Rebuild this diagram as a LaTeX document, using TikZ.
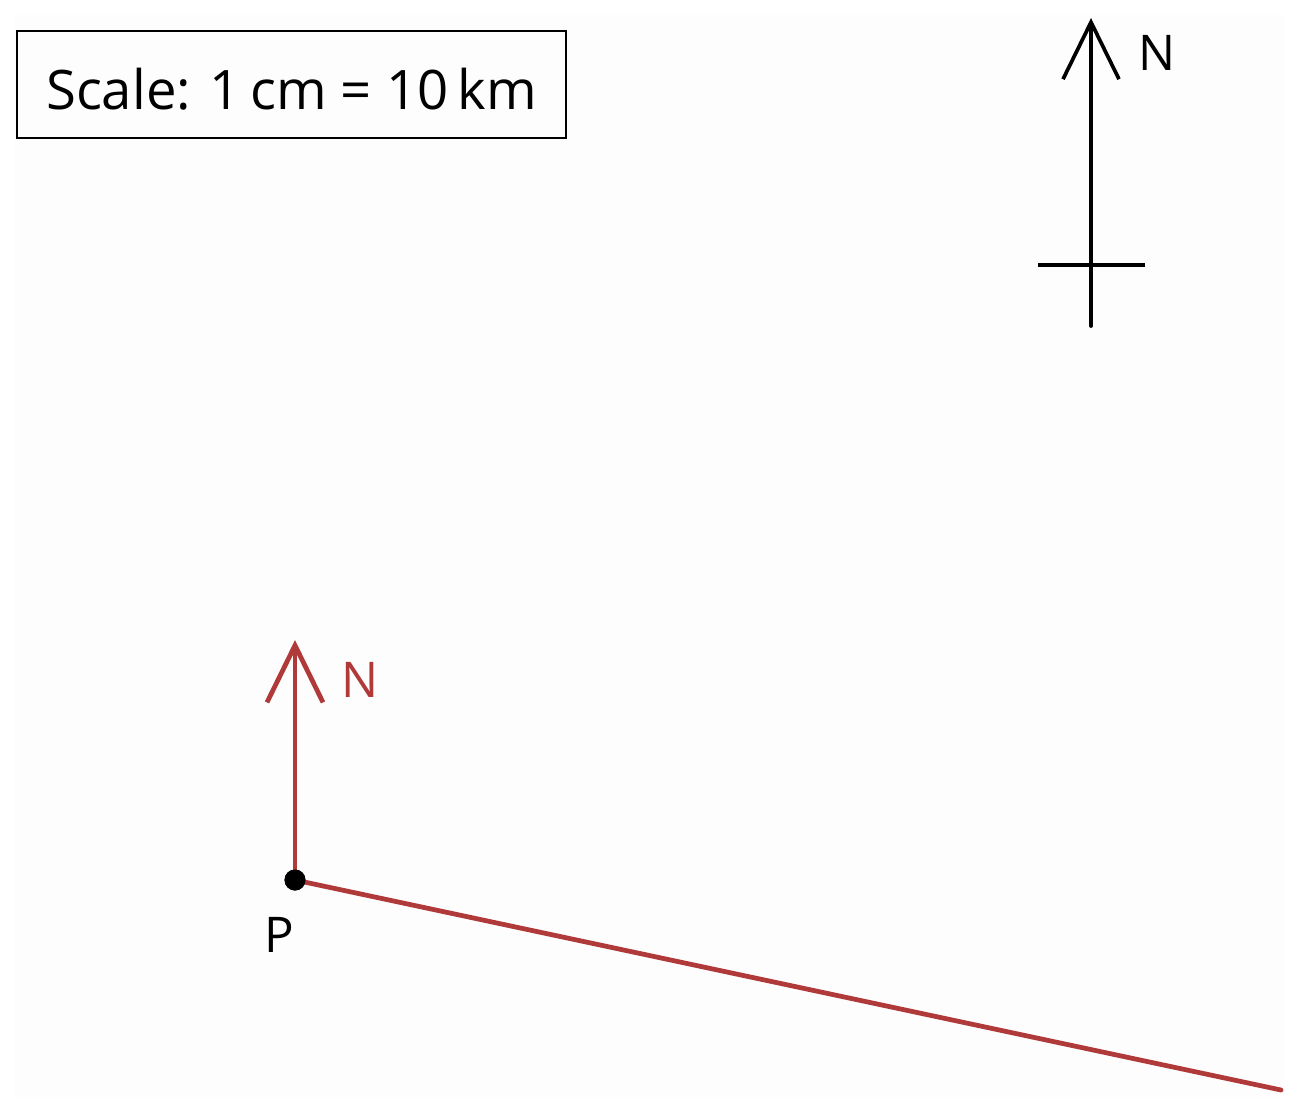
\documentclass[tikz,border=0pt]{standalone}
\usepackage{fontspec}
\setmainfont{Open Sans}
\usetikzlibrary{arrows.meta}
\definecolor{bearingred}{HTML}{B0393A}
\definecolor{paper}{HTML}{FDFDFD}

\begin{document}
\begin{tikzpicture}[x=0.02cm, y=-0.02cm,
    northline/.style={line width=2.1pt, line cap=round, -{Straight Barb[length=1.14cm, width=1.12cm, line width=2.1pt]}},
    redline/.style={line width=2.7pt, line cap=round, bearingred},
    lbl/.style={inner sep=0pt, font=\fontsize{28}{30}\selectfont}]
\useasboundingbox (0,0) rectangle (1300,1110);
\fill[paper] (15,15) rectangle (1285,1097);

%scale box
\node[draw, line width=1.1pt, minimum width=10.98cm, minimum height=2.14cm, text height=28pt, text depth=0pt, font=\fontsize{31}{33}\selectfont] (scalebox) at (291.5,84.5) {Scale: 1\,cm = 10\,km};

%north arrow (top right)
\coordinate (ntop) at (1091,18); \coordinate (nbot) at (1091,326);
\coordinate (crossl) at (1038,265); \coordinate (crossr) at (1145,265);
\draw[northline] (nbot) -- (ntop);
\draw[line width=2.1pt] (crossl) -- (crossr);
\node[lbl] (nlabel) at (1157,53) {N};

%point P and its north line
\node[circle, fill=black, inner sep=0pt, minimum size=0.42cm] (P) at (295,880) {};
\node[lbl] (plabel) at (279,935) {P};
\coordinate (ptop) at (295,640); \coordinate (bearend) at (1281,1090);
\draw[northline, redline, -{Straight Barb[length=1.14cm, width=1.12cm, line width=2.7pt]}] (P.center) -- (ptop);
\node[lbl, text=bearingred] (pnlabel) at (360,680) {N};
\draw[redline] (P.center) -- (bearend);
\fill (P) circle (0.21cm);
\end{tikzpicture}
\end{document}
